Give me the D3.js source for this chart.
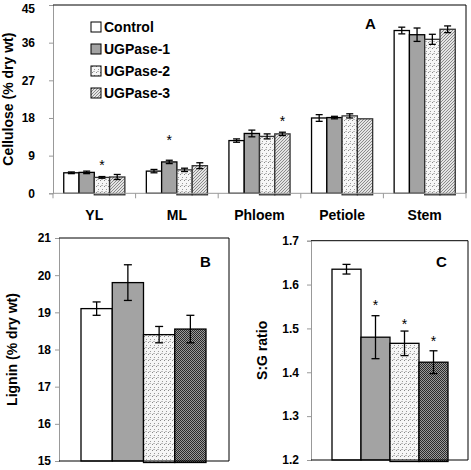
<!DOCTYPE html>
<html><head><meta charset="utf-8">
<script src="https://cdn.jsdelivr.net/npm/d3@7"></script>
<style>
body{margin:0;background:#fff;}
text{font-family:"Liberation Sans",Arial,sans-serif;}
</style></head>
<body>
<svg id="c" width="471" height="470"></svg>
<script>
// ---------- DATA ----------
const series = ["Control","UGPase-1","UGPase-2","UGPase-3"];
const categoriesA = ["YL","ML","Phloem","Petiole","Stem"];
const celluloseMean = [
  [4.9, 5.0, 3.8, 3.9],
  [5.3, 7.5, 5.6, 6.6],
  [12.6, 14.3, 13.6, 14.2],
  [18.0, 18.1, 18.5, 17.8],
  [38.9, 37.9, 36.8, 39.2]
];
const celluloseErr = [
  [0.2, 0.3, 0.2, 0.6],
  [0.4, 0.4, 0.4, 0.7],
  [0.4, 0.8, 0.6, 0.4],
  [0.8, 0.3, 0.5, 0.0],
  [0.8, 1.6, 1.2, 0.8]
];
const starsA = [{cat:0, s:2, level:7.4},{cat:1, s:1, level:13.5},{cat:2, s:3, level:17.9}];
const ticksA = [0,9,18,27,36,45];

const ligninMean = [19.1, 19.8, 18.4, 18.55];
const ligninErr  = [0.18, 0.48, 0.22, 0.37];
const ticksB = [15,16,17,18,19,20,21];

const sgMean = [1.635, 1.48, 1.466, 1.423];
const sgErr  = [0.011, 0.049, 0.028, 0.026];
const starsC = [{s:1, level:1.561},{s:2, level:1.517},{s:3, level:1.478}];
const ticksC = [1.2,1.3,1.4,1.5,1.6,1.7];

// ---------- SETUP ----------
const svg = d3.select("#c");
const defs = svg.append("defs");
const F = "Liberation Sans, Arial, sans-serif";

// patterns
let p = defs.append("pattern").attr("id","pUG2").attr("patternUnits","userSpaceOnUse").attr("width",4).attr("height",6);
p.append("rect").attr("width",4).attr("height",6).attr("fill","#f6f6f6");
p.append("rect").attr("x",0).attr("y",0).attr("width",1).attr("height",1).attr("fill","#888");
p.append("rect").attr("x",2).attr("y",3).attr("width",1).attr("height",1).attr("fill","#999");
p.append("rect").attr("x",1).attr("y",5).attr("width",2).attr("height",1).attr("fill","#bbb");

p = defs.append("pattern").attr("id","pUG3a").attr("patternUnits","userSpaceOnUse").attr("width",3).attr("height",3);
p.append("rect").attr("width",3).attr("height",3).attr("fill","#e4e4e4");
p.append("path").attr("d","M0,3 L3,0").attr("stroke","#8a8a8a").attr("stroke-width",1);

p = defs.append("pattern").attr("id","pUG3b").attr("patternUnits","userSpaceOnUse").attr("width",2).attr("height",2);
p.append("rect").attr("width",2).attr("height",2).attr("fill","#9a9a9a");
p.append("rect").attr("x",0).attr("y",0).attr("width",1).attr("height",1).attr("fill","#2a2a2a");
p.append("rect").attr("x",1).attr("y",1).attr("width",1).attr("height",1).attr("fill","#2a2a2a");

const fillsA = ["#ffffff","#a3a3a3","url(#pUG2)","url(#pUG3a)"];
const fillsB = ["#ffffff","#a3a3a3","url(#pUG2)","url(#pUG3b)"];

function errBar(g, x, yTop, yBot, cap){
  g.append("line").attr("x1",x).attr("x2",x).attr("y1",yTop).attr("y2",yBot).attr("stroke","#000").attr("stroke-width",1.3);
  g.append("line").attr("x1",x-cap).attr("x2",x+cap).attr("y1",yTop).attr("y2",yTop).attr("stroke","#000").attr("stroke-width",1.3);
  g.append("line").attr("x1",x-cap).attr("x2",x+cap).attr("y1",yBot).attr("y2",yBot).attr("stroke","#000").attr("stroke-width",1.3);
}

// ---------- PANEL A ----------
(function(){
  const L=53, R=466, T=5, B=193.3;
  const y = d3.scaleLinear().domain([0,45]).range([B,T]);
  const x = d3.scaleBand().domain(categoriesA).range([L,R]);
  const xs = d3.scaleBand().domain(series).range([x.bandwidth()*0.13, x.bandwidth()*0.87]);
  const g = svg.append("g");

  // y axis
  const ya = d3.axisLeft(y).tickValues(ticksA).tickSize(4).tickPadding(14);
  const yg = g.append("g").attr("transform",`translate(${L},0)`).call(ya);
  yg.select(".domain").attr("stroke","#999");
  yg.selectAll(".tick line").attr("stroke","#999");
  yg.selectAll("text").attr("font-family",F).attr("font-weight","bold").attr("font-size",12).attr("fill","#000");
  yg.selectAll(".tick").filter(d=>d===45).select("text").attr("dy","0.62em");

  // frame top/right
  g.append("line").attr("x1",L).attr("x2",R).attr("y1",T).attr("y2",T).attr("stroke","#000").attr("stroke-width",1);
  g.append("line").attr("x1",R).attr("x2",R).attr("y1",T).attr("y2",B).attr("stroke","#000").attr("stroke-width",1);

  // bars
  categoriesA.forEach((c,i)=>{
    series.forEach((s,j)=>{
      const bx = x(c)+xs(s), v = celluloseMean[i][j], e = celluloseErr[i][j];
      const extra = j>=2 ? 1.5 : 0;
      g.append("rect").attr("x",bx).attr("y",y(v)).attr("width",xs.bandwidth()).attr("height",B-y(v)+extra)
        .attr("fill",fillsA[j]).attr("stroke",j>=2?"#333":"#000").attr("stroke-width",1.3);
      if(e>0) errBar(g, bx+xs.bandwidth()/2, y(v+e), y(v-e), 3.5);
    });
  });
  starsA.forEach(st=>{
    g.append("text").attr("x",x(categoriesA[st.cat])+xs(series[st.s])+xs.bandwidth()/2).attr("y",y(st.level)+8)
      .attr("text-anchor","middle").attr("font-family",F).attr("font-size",14).text("*");
  });

  // x axis
  g.append("line").attr("x1",L).attr("x2",R).attr("y1",B).attr("y2",B).attr("stroke","#999").attr("stroke-width",1);
  const bounds = categoriesA.map(c=>x(c)).concat([R]);
  bounds.forEach(b=>{
    g.append("line").attr("x1",b).attr("x2",b).attr("y1",B).attr("y2",B+5).attr("stroke","#999");
  });
  categoriesA.forEach(c=>{
    g.append("text").attr("x",x(c)+x.bandwidth()/2).attr("y",220).attr("text-anchor","middle")
      .attr("font-family",F).attr("font-weight","bold").attr("font-size",14).text(c);
  });

  // y title
  g.append("text").attr("transform",`translate(13,${(T+B)/2}) rotate(-90)`).attr("text-anchor","middle")
    .attr("font-family",F).attr("font-weight","bold").attr("font-size",14).text("Cellulose (% dry wt)");

  // legend
  series.forEach((s,j)=>{
    const cy = 27 + j*22;
    g.append("rect").attr("x",91).attr("y",cy-5).attr("width",10).attr("height",10)
      .attr("fill",fillsA[j]).attr("stroke","#000").attr("stroke-width",1);
    g.append("text").attr("x",104).attr("y",cy+5).attr("font-family",F).attr("font-weight","bold").attr("font-size",14).text(s);
  });
  g.append("text").attr("x",365).attr("y",29).attr("font-family",F).attr("font-weight","bold").attr("font-size",15).text("A");
})();

// ---------- small panels ----------
function smallPanel(cfg){
  const {L,R,T,B,domain,ticks,fmt,means,errs,barL,barR,title,titleX,letter,letterX,stars,labelPad,cap} = cfg;
  const y = d3.scaleLinear().domain(domain).range([B,T]);
  const xs = d3.scaleBand().domain(series).range([barL,barR]);
  const g = svg.append("g");
  const ya = d3.axisLeft(y).tickValues(ticks).tickSize(4).tickPadding(labelPad).tickFormat(fmt);
  const yg = g.append("g").attr("transform",`translate(${L},0)`).call(ya);
  yg.select(".domain").attr("stroke","#999");
  yg.selectAll(".tick line").attr("stroke","#999");
  yg.selectAll("text").attr("font-family",F).attr("font-weight","bold").attr("font-size",12).attr("fill","#000");

  g.append("line").attr("x1",L).attr("x2",R).attr("y1",T).attr("y2",T).attr("stroke","#000");
  g.append("line").attr("x1",R).attr("x2",R).attr("y1",T).attr("y2",B).attr("stroke","#000");

  series.forEach((s,j)=>{
    const bx = xs(s), v = means[j], e = errs[j];
    const extra = j>=2 ? 1.5 : 0;
    g.append("rect").attr("x",bx).attr("y",y(v)).attr("width",xs.bandwidth()).attr("height",B-y(v)+extra)
      .attr("fill",fillsB[j]).attr("stroke","#000").attr("stroke-width",1.3);
    errBar(g, bx+xs.bandwidth()/2, y(v+e), y(v-e), cap);
  });
  g.append("line").attr("x1",L).attr("x2",R).attr("y1",B).attr("y2",B).attr("stroke","#000").attr("stroke-width",1.2);
  (stars||[]).forEach(st=>{
    g.append("text").attr("x",xs(series[st.s])+xs.bandwidth()/2).attr("y",y(st.level)+8)
      .attr("text-anchor","middle").attr("font-family",F).attr("font-size",14).text("*");
  });
  g.append("text").attr("transform",`translate(${titleX},${(T+B)/2}) rotate(-90)`).attr("text-anchor","middle")
    .attr("font-family",F).attr("font-weight","bold").attr("font-size",14).text(title);
  g.append("text").attr("x",letterX).attr("y",267).attr("font-family",F).attr("font-weight","bold").attr("font-size",15).text(letter);
}

smallPanel({L:59,R:229,T:238,B:461,domain:[15,21],ticks:ticksB,fmt:d3.format("d"),
  means:ligninMean,errs:ligninErr,barL:81,barR:206,title:"Lignin (% dry wt)",titleX:17,
  letter:"B",letterX:200,labelPad:4,cap:4});
smallPanel({L:311,R:468,T:240.7,B:460,domain:[1.2,1.7],ticks:ticksC,fmt:d3.format(".1f"),
  means:sgMean,errs:sgErr,barL:332,barR:448,title:"S:G ratio",titleX:267,
  letter:"C",letterX:436,stars:starsC,labelPad:8,cap:4});
</script>
</body></html>
